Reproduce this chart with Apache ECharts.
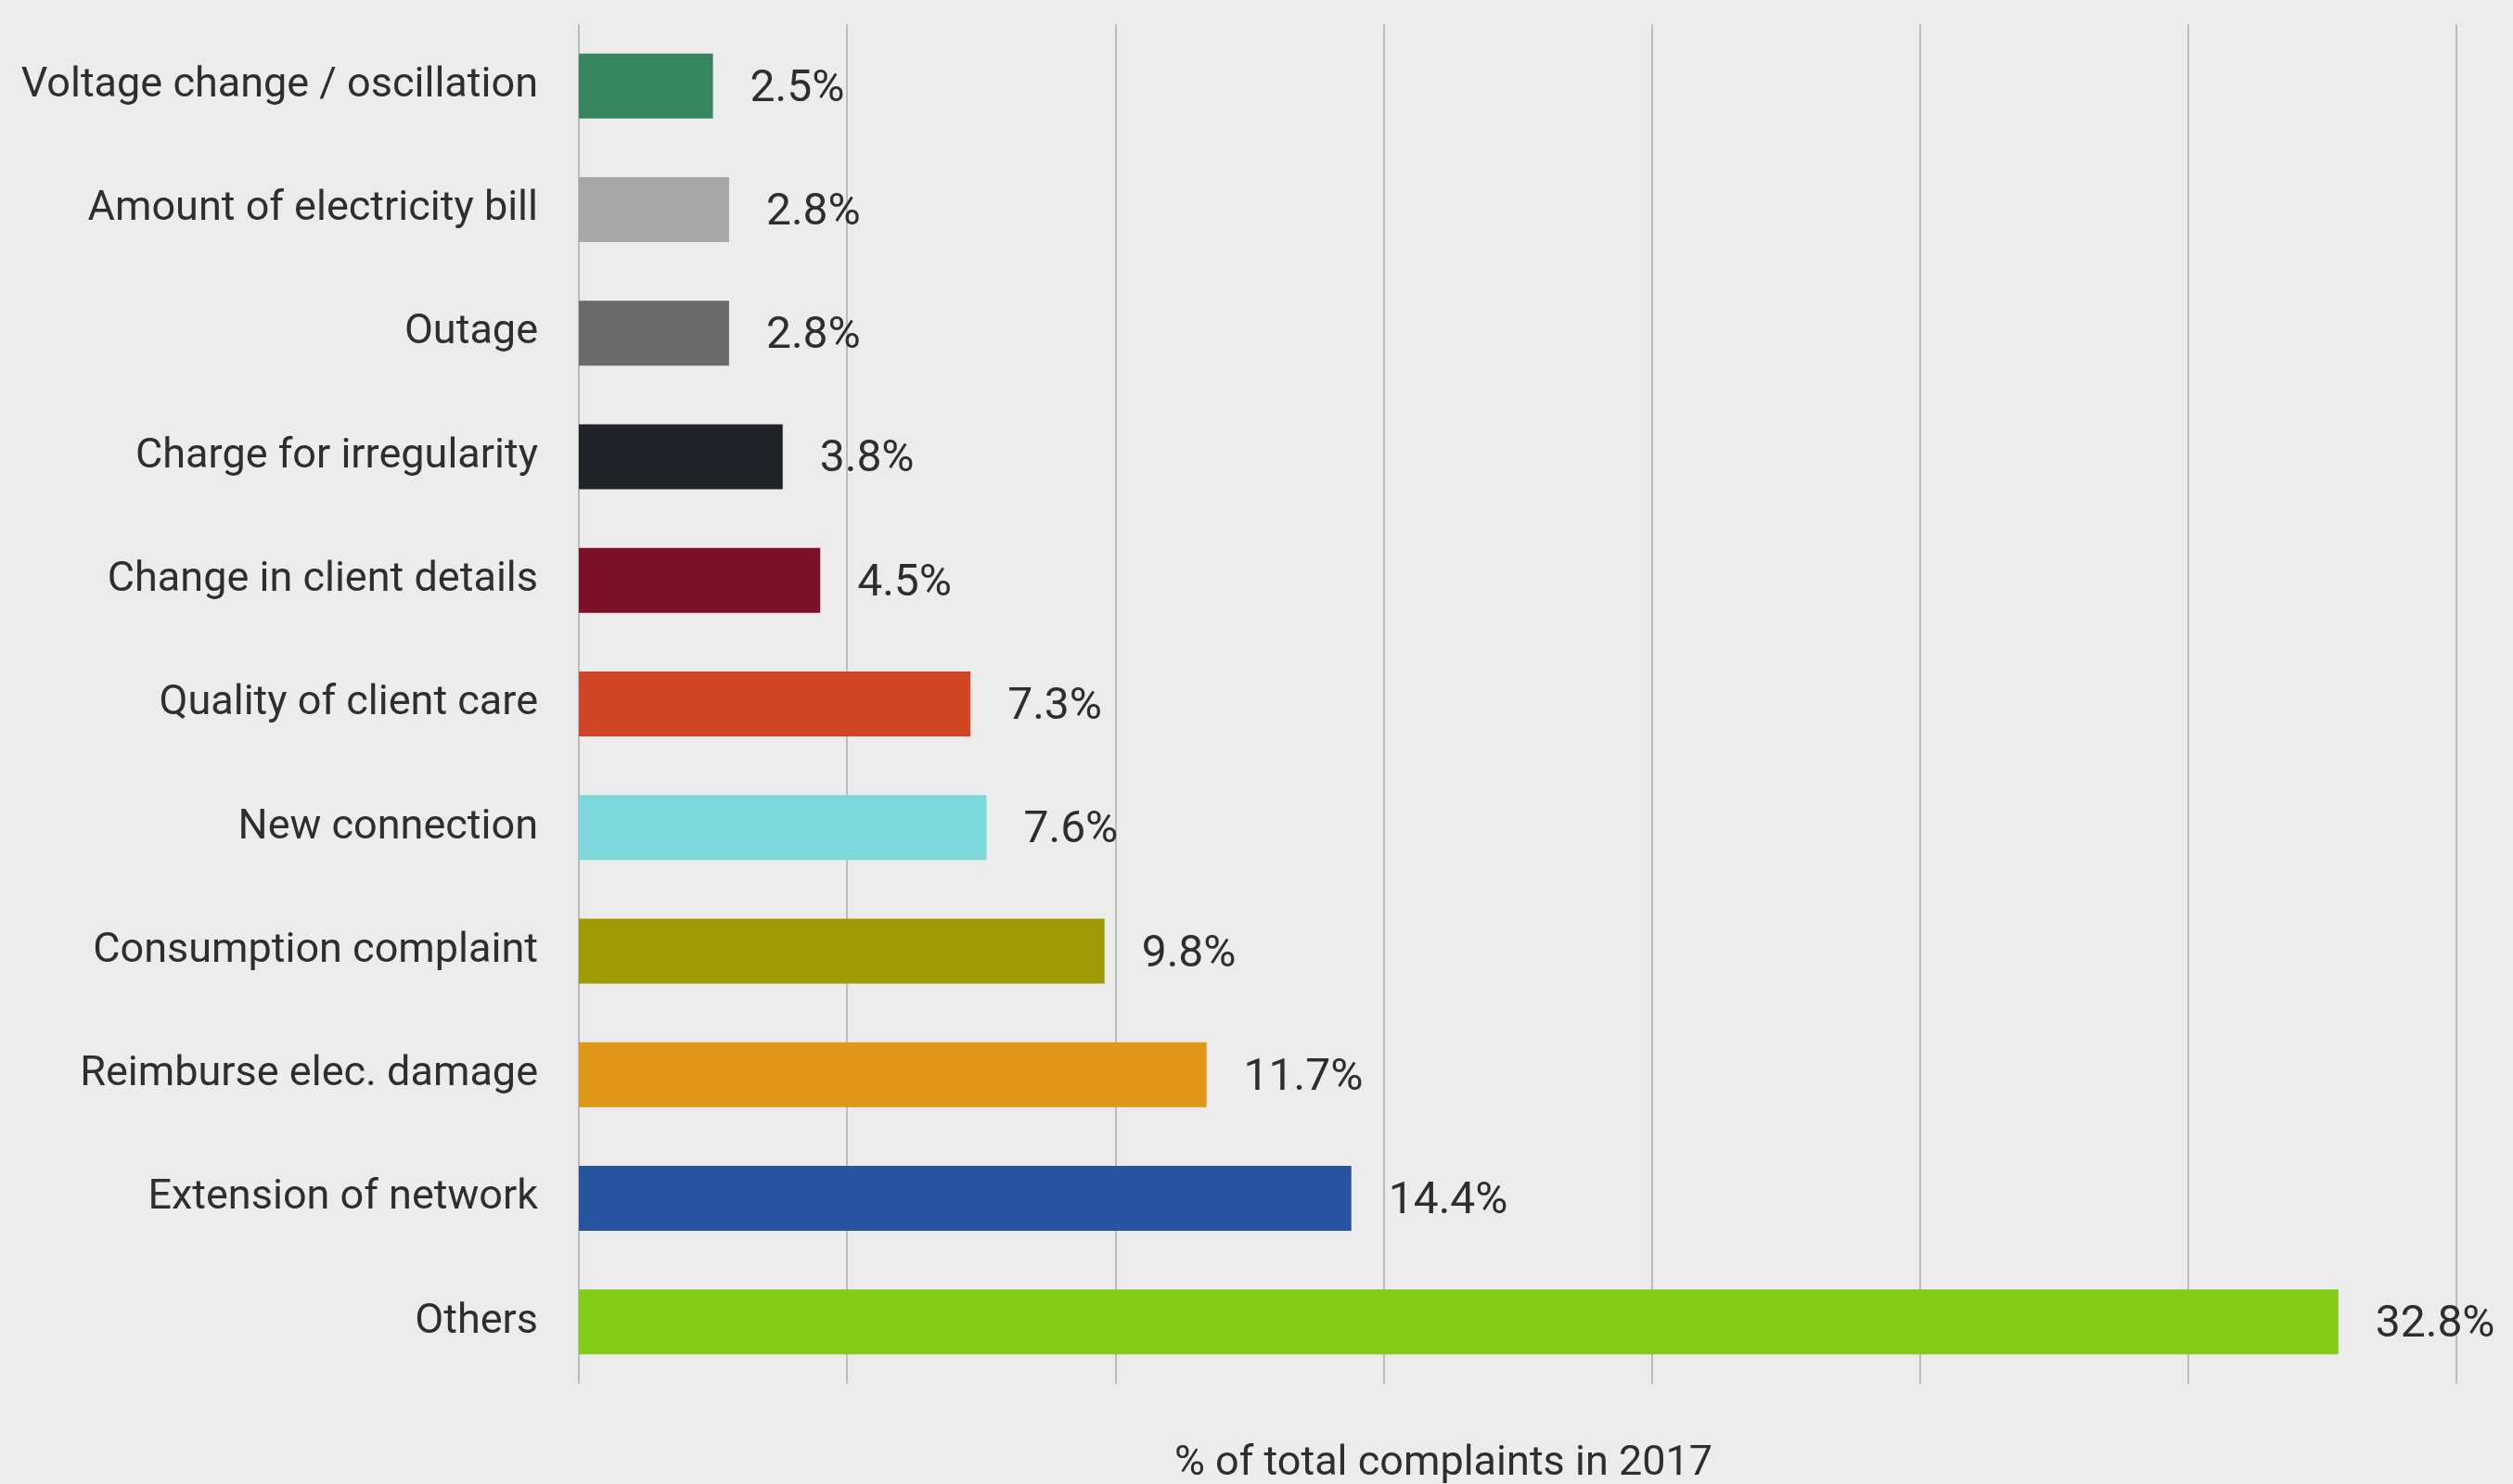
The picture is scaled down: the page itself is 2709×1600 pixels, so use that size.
<!DOCTYPE html>
<html>
<head>
<meta charset="utf-8">
<script src="https://cdn.jsdelivr.net/npm/echarts@6/dist/echarts.min.js"></script>
<style>
  html, body { margin: 0; padding: 0; background: #ececec; }
  #chart { width: 2709px; height: 1600px; }
</style>
</head>
<body>
<div id="chart"></div>
<script>
// categories, top to bottom
const categories = [
    'Voltage change / oscillation',
    'Amount of electricity bill',
    'Outage',
    'Charge for irregularity',
    'Change in client details',
    'Quality of client care',
    'New connection',
    'Consumption complaint',
    'Reimburse elec. damage',
    'Extension of network',
    'Others'
];
const shares = [2.5, 2.8, 2.8, 3.8, 4.5, 7.3, 7.6, 9.8, 11.7, 14.4, 32.8];
const barColors = [
    '#368660', '#a8a8a8', '#6a6a6a', '#202328', '#7d112c', '#d04526',
    '#7dd8dc', '#9f9b05', '#e09617', '#2953a1', '#83cb16'
];
const axisTitle = '% of total complaints in 2017';

const chart = echarts.init(document.getElementById('chart'));

chart.setOption({
    backgroundColor: '#ececec',
    animation: false,
    textStyle: { fontFamily: 'Roboto' },
    grid: {
        left: 624, right: 61, top: 26, bottom: 108,
        containLabel: false,
        outerBoundsMode: 'none'
    },
    xAxis: {
        type: 'value',
        min: 0,
        max: 35,
        interval: 5,
        axisLabel: { show: false },
        axisLine: { show: false },
        axisTick: { show: false },
        splitLine: { show: true, lineStyle: { color: '#bdbdbd', width: 2 } },
        name: axisTitle,
        nameLocation: 'middle',
        nameGap: 64,
        nameTextStyle: {
            fontSize: 45,
            color: '#2e2e2e',
            fontFamily: 'Roboto',
            padding: [0, 160, 0, 0]
        }
    },
    yAxis: {
        type: 'category',
        data: categories,
        inverse: true,
        axisLine: { show: false },
        axisTick: { show: false },
        axisLabel: {
            fontSize: 45, color: '#2e2e2e', margin: 44,
            fontFamily: 'Roboto', padding: [20, 0, 0, 0]
        }
    },
    series: [{
        type: 'bar',
        barWidth: 70,
        data: shares.map((v, i) => ({ value: v, itemStyle: { color: barColors[i] } })),
        label: {
            show: true,
            position: 'right',
            distance: 40,
            fontSize: 48,
            color: '#2e2e2e',
            fontFamily: 'Roboto',
            offset: [0, 4],
            formatter: p => p.value.toFixed(1) + '%'
        }
    }]
});

window.addEventListener('resize', () => chart.resize());
</script>
</body>
</html>
